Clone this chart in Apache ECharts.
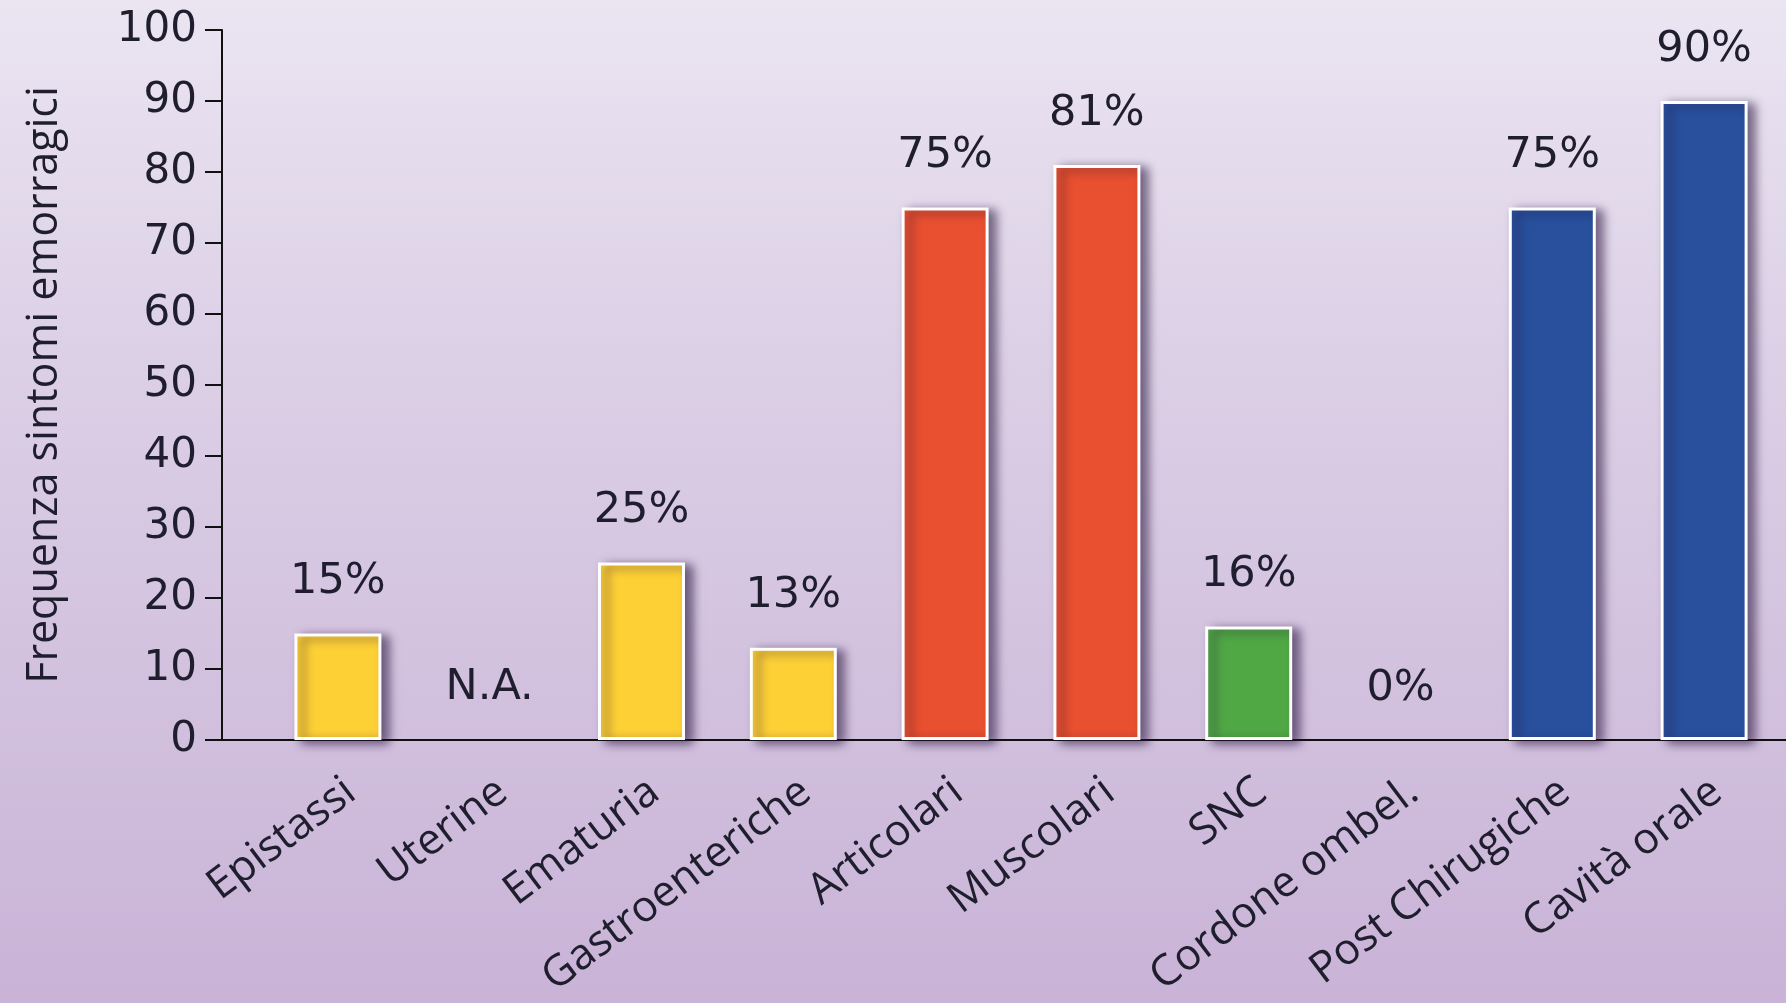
<!DOCTYPE html>
<html>
<head>
<meta charset="utf-8">
<title>Frequenza sintomi emorragici</title>
<script src="https://cdn.jsdelivr.net/npm/echarts@6/dist/echarts.min.js"></script>
<style>
  html, body { margin: 0; padding: 0; }
  #chart { width: 1786px; height: 1003px; }
</style>
</head>
<body>
<div id="chart"></div>
<script>
// Categories of bleeding symptoms
const categories = ['Epistassi', 'Uterine', 'Ematuria', 'Gastroenteriche', 'Articolari',
  'Muscolari', 'SNC', 'Cordone ombel.', 'Post Chirugiche', 'Cavità orale'];
// Frequency (%) per category; null = not available
const values = [15, null, 25, 13, 75, 81, 16, 0, 75, 90];
// Colour group of each category (index into the palette below)
const colorGroup = [0, 0, 0, 0, 1, 1, 2, 2, 3, 3];
// Y axis tick range
const yTicks = { min: 0, max: 100, step: 10 };
const naText = 'N.A.';
const yAxisTitle = 'Frequenza sintomi emorragici';

const palette = ['#fdd036', '#e8502f', '#50a845', '#28509d'];
const inkColor = '#1f1e2e';

const barData = values.map((v, i) => {
  if (v === null) return '-';
  const item = { value: v, itemStyle: { color: palette[colorGroup[i]] } };
  if (v === 0) {
    item.itemStyle.borderWidth = 0;
    item.itemStyle.shadowColor = 'rgba(0,0,0,0)';
  }
  return item;
});

const naPoints = values
  .map((v, i) => (v === null ? { coord: [categories[i], 0] } : null))
  .filter(Boolean);

const grid = { top: 30, bottom: 263 };

const chart = echarts.init(document.getElementById('chart'), null, { renderer: 'canvas' });
chart.setOption({
  animation: false,
  backgroundColor: {
    type: 'linear', x: 0, y: 0, x2: 0, y2: 1,
    colorStops: [
      { offset: 0, color: '#ebe5f2' },
      { offset: 0.35, color: '#dcd0e6' },
      { offset: 1, color: '#c9b3d7' }
    ]
  },
  grid: [
    // bars
    { left: 262, right: 6, top: grid.top, bottom: grid.bottom },
    // axis frame
    { left: 222, right: 0, top: grid.top, bottom: grid.bottom }
  ],
  xAxis: [
    {
      type: 'category', gridIndex: 0, data: categories,
      axisLine: { show: false }, axisTick: { show: false },
      axisLabel: {
        interval: 0, rotate: 37, margin: 30, verticalAlign: 'top',
        fontFamily: 'Open Sans', fontSize: 43, color: inkColor
      }
    },
    {
      type: 'value', gridIndex: 1, min: 0, max: 1,
      axisLine: { show: true, lineStyle: { color: '#111', width: 2 } },
      axisTick: { show: false }, axisLabel: { show: false }, splitLine: { show: false }
    }
  ],
  yAxis: [
    { type: 'value', gridIndex: 0, min: yTicks.min, max: yTicks.max, show: false },
    {
      type: 'value', gridIndex: 1, min: yTicks.min, max: yTicks.max, interval: yTicks.step,
      name: yAxisTitle, nameLocation: 'middle', nameGap: 156,
      nameTextStyle: { fontFamily: 'Open Sans', fontSize: 43, color: inkColor },
      axisLine: { show: true, lineStyle: { color: '#111', width: 2 } },
      axisTick: { show: true, length: 17, lineStyle: { color: '#111', width: 2 } },
      axisLabel: { margin: 25, fontFamily: 'DejaVu Sans', fontSize: 42, color: inkColor },
      splitLine: { show: false }
    }
  ],
  series: [{
    type: 'bar', xAxisIndex: 0, yAxisIndex: 0,
    data: barData,
    barWidth: 87,
    itemStyle: {
      borderColor: '#ffffff', borderWidth: 3,
      shadowColor: 'rgba(35,15,55,0.6)', shadowBlur: 10, shadowOffsetX: 7, shadowOffsetY: 3
    },
    label: {
      show: true, position: 'top', distance: 30,
      fontFamily: 'DejaVu Sans', fontSize: 43, color: inkColor,
      formatter: p => p.value + '%'
    },
    markPoint: {
      symbol: 'rect', symbolSize: 1,
      itemStyle: { color: 'rgba(0,0,0,0)' },
      label: {
        show: true, position: 'top', distance: 30,
        fontFamily: 'DejaVu Sans', fontSize: 43, color: inkColor,
        formatter: () => naText
      },
      data: naPoints
    }
  }]
});
</script>
</body>
</html>
